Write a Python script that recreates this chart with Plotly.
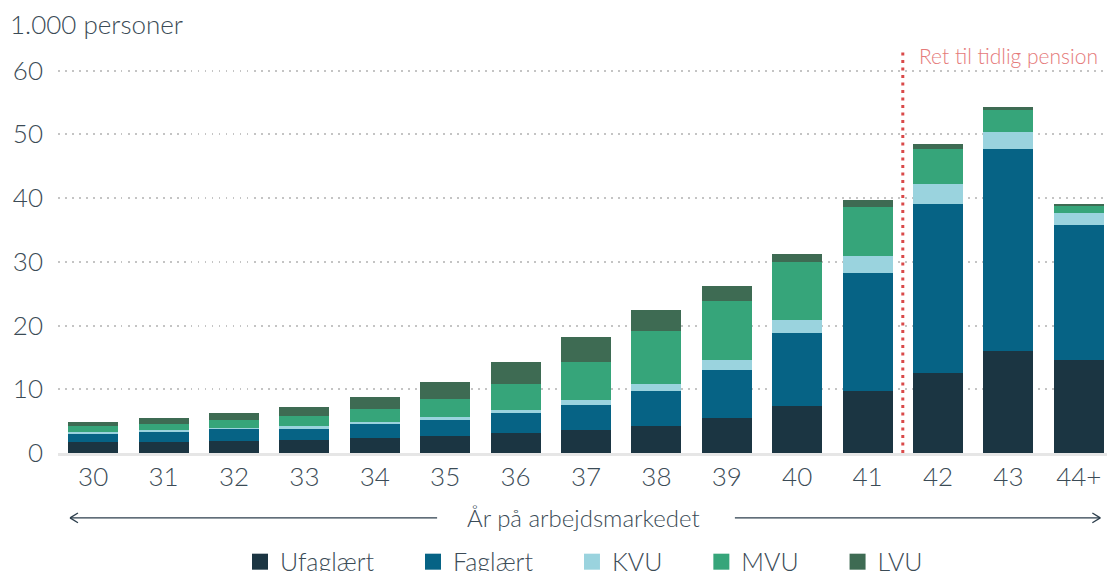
import plotly.graph_objects as go

categories = ["30", "31", "32", "33", "34", "35", "36", "37", "38", "39", "40", "41", "42", "43", "44+"]
ufaglaert = [1.7, 1.7, 1.9, 2.0, 2.35, 2.65, 3.1, 3.6, 4.2, 5.5, 7.35, 9.7, 12.55, 16.0, 14.6]
faglaert = [1.4, 1.6, 1.9, 1.9, 2.2, 2.5, 3.15, 3.9, 5.5, 7.5, 11.45, 18.5, 26.5, 31.65, 21.1]
kvu = [0.2, 0.3, 0.15, 0.3, 0.3, 0.5, 0.45, 0.8, 1.1, 1.6, 2.05, 2.7, 3.15, 2.65, 1.9]
mvu = [0.9, 0.95, 1.25, 1.6, 2.05, 2.8, 4.1, 5.95, 8.3, 9.2, 9.05, 7.7, 5.5, 3.45, 1.25]
lvu = [0.6, 0.95, 1.1, 1.4, 1.9, 2.7, 3.45, 3.9, 3.3, 2.4, 1.3, 1.1, 0.75, 0.45, 0.15]

series = [
    ("Ufaglært", ufaglaert, "#1b3542"),
    ("Faglært", faglaert, "#066385"),
    ("KVU", kvu, "#9ad3de"),
    ("MVU", mvu, "#36a57a"),
    ("LVU", lvu, "#3e6b53"),
]

FONT = "Lato"
TXT = "#3b4b56"
NB = "\u00a0"
W, H = 1115, 571
OFF = 8  # page body margin offset

fig = go.Figure()
for name, vals, col in series:
    fig.add_trace(go.Bar(x=categories, y=vals, name=name, showlegend=False,
                         marker=dict(color=col, line=dict(width=0))))
# legend entries (larger square swatches)
for i, (name, vals, col) in enumerate(series):
    label = name + (NB * 5 if i < len(series) - 1 else "")
    fig.add_trace(go.Scatter(x=[None], y=[None], mode="markers", name=label,
                             marker=dict(symbol="square", size=16, color=col, line=dict(width=0))))

# Pension line between 41 and 42
fig.add_shape(type="line", xref="x", yref="y", x0=11.5, x1=11.5, y0=0, y1=63.5,
              line=dict(color="#d94a4a", width=3, dash="3px,4.5px"))
fig.add_annotation(xref="paper", yref="y", x=0.987, y=62.3, text="Ret til tidlig pension",
                   showarrow=False, xanchor="right", yanchor="middle",
                   font=dict(family=FONT, size=21, color="#e57a7a", weight=300))

# Axis caption with arrows
ycap = -0.159
fig.add_annotation(xref="paper", yref="paper", x=0.4975, y=ycap, text="År på arbejdsmarkedet",
                   showarrow=False, xanchor="center", yanchor="middle",
                   font=dict(family=FONT, size=24, color=TXT, weight=300))
lc = "#2c3e4c"
for x0, x1 in [(0.0114, 0.359), (0.641, 0.987)]:
    fig.add_shape(type="line", xref="paper", yref="paper", x0=x0, x1=x1, y0=ycap, y1=ycap,
                  line=dict(color=lc, width=1.3))
ah_dx = 0.0075
ah_dy = 0.012
for xt, sgn in [(0.0114, 1), (0.987, -1)]:
    for s in (1, -1):
        fig.add_shape(type="line", xref="paper", yref="paper", x0=xt, y0=ycap,
                      x1=xt + sgn * ah_dx, y1=ycap + s * ah_dy,
                      line=dict(color=lc, width=1.3))

fig.update_layout(
    width=W, height=H,
    barmode="stack", bargap=0.29,
    plot_bgcolor="white", paper_bgcolor="white",
    margin=dict(l=58 - OFF, r=W - 1114 + OFF, t=44.5 - OFF, b=H - 453 + OFF, autoexpand=False),
    font=dict(family=FONT, color=TXT, size=22, weight=300),
    title=dict(text="1.000 personer", x=(10 - OFF) / W, xanchor="left", xref="container",
               y=1 - (25 - OFF) / H, yanchor="middle", yref="container",
               font=dict(family=FONT, size=26, color=TXT, weight=300)),
    showlegend=True,
    legend=dict(orientation="h", x=0.5 - 2 / 1056, xanchor="center", y=-0.267, yanchor="middle",
                font=dict(family=FONT, size=25, color=TXT, weight=300),
                itemwidth=30, traceorder="normal"),
)
fig.update_xaxes(type="category", range=[-0.5, 14.5], showgrid=False, showline=True,
                 linecolor="#e6e6e6", linewidth=3, ticks="", ticklabelstandoff=-1, automargin=False,
                 tickfont=dict(family=FONT, size=26, color=TXT, weight=300), fixedrange=True)
fig.update_yaxes(range=[0, 64], tickvals=[0, 10, 20, 30, 40, 50, 60], showgrid=True,
                 gridcolor="#c4c4c4", gridwidth=1.5, griddash="1.5px,5.5px", automargin=False,
                 zeroline=False, showline=False, ticks="", ticklabelstandoff=14,
                 tickfont=dict(family=FONT, size=26, color=TXT, weight=300), fixedrange=True)

fig.write_html("out.html")
